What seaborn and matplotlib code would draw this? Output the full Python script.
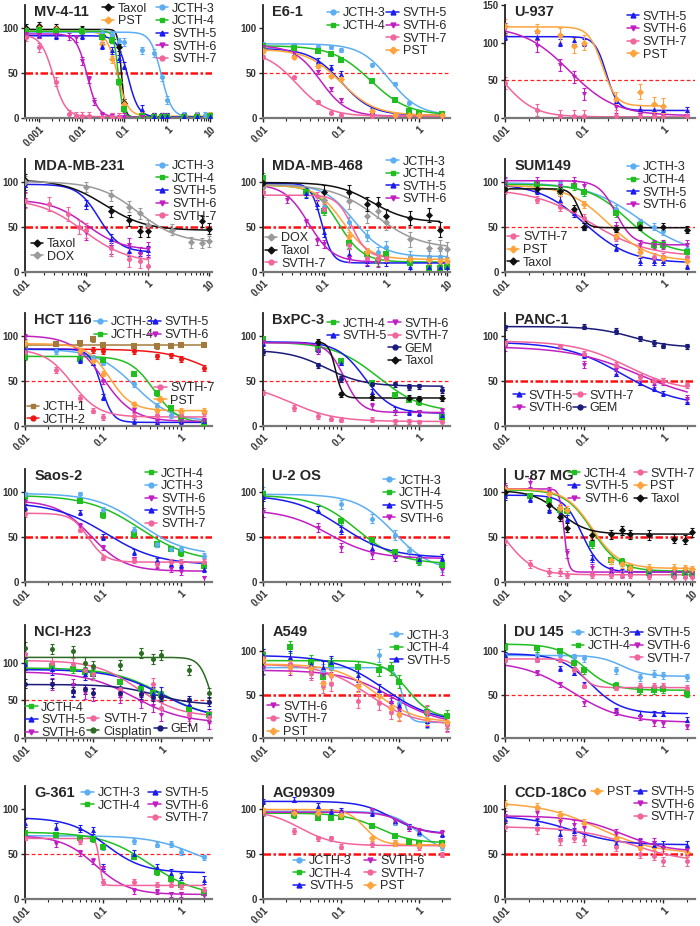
import numpy as np
import matplotlib
matplotlib.use("Agg")
import matplotlib.pyplot as plt
from matplotlib.lines import Line2D
from matplotlib.ticker import FixedLocator, LogLocator, NullFormatter
import seaborn as sns

N = None

# dose grids (uM)
DOSE_MV = [0.0005, 0.001, 0.0025, 0.005, 0.0075, 0.01, 0.015, 0.02, 0.03, 0.05,
           0.075, 0.1, 0.25, 0.5, 0.75, 1, 2.5, 5, 7.5, 10]
DOSE_2 = [0.01, 0.025, 0.05, 0.075, 0.1, 0.25, 0.5, 0.75, 1, 2]
DOSE_5 = [0.01, 0.025, 0.05, 0.075, 0.1, 0.25, 0.5, 0.75, 1, 2.5, 5]
DOSE_10 = [0.01, 0.025, 0.05, 0.075, 0.1, 0.25, 0.5, 0.75, 1, 2.5, 5, 7.5, 10]
DOSE_U87 = [0.01, 0.025, 0.05, 0.075, 0.1, 0.25, 0.5, 0.75, 1, 2, 5, 7.5, 10]

# series: name, top, bottom, IC50, hill, sem, % viability at each dose
mv4_series = [
    ("Taxol", 98, 1, 0.085, 10, 4, [100, 102, 100, N, N, 98, N, N, 92, 87, 78, 17, 2, 1, 1, 1, 2, 2, N, 2]),
    ("PST", 96, 2, 0.068, 3.5, 4, [97, 100, 98, N, N, 96, N, N, 82, 65, 40, 15, 3, 2, 2, 2, 2, 3, N, 3]),
    ("JCTH-3", 95, 1, 0.72, 3.5, 4, [95, 97, 96, N, N, 96, N, N, 94, 92, 85, 84, 75, 72, 45, 20, 3, 3, 3, 2]),
    ("JCTH-4", 96, 1, 0.072, 8, 3, [96, 97, 96, N, N, 96, N, N, 90, 86, 40, 10, 2, 1, 1, 1, 1, 1, N, 2]),
    ("SVTH-5", 91, 1, 0.12, 3.5, 4, [92, 92, 91, N, N, 91, N, N, 80, 75, 66, 58, 10, 2, 2, 2, 2, 2, N, 2]),
    ("SVTH-6", 93, 1, 0.0135, 3.5, 4, [93, 92, 92, 90, 88, 63, 43, 18, 3, 2, 1, 1, 1, N, N, N, N, N, N, N]),
    ("SVTH-7", 92, 1.5, 0.0022, 3, 5, [90, 78, 40, 4, 2, 2, 2, N, 1, 1, 1, N, N, N, N, N, N, N, N, N]),
]
e61_series = [
    ("JCTH-3", 82, 3, 0.42, 2.3, 2, [82, 81, 79, 78, 75, 59, 38, 17, 7, 4]),
    ("JCTH-4", 80, 3, 0.24, 1.8, 2, [80, 77, 74, 71, 64, 41, 20, 8, 5, 4]),
    ("SVTH-5", 77, 3, 0.1, 2.2, 3, [76, 71, 63, 56, 49, 8, 3, 3, 3, 3]),
    ("SVTH-6", 80, 2, 0.055, 2.6, 2, [78, 72, 51, 32, 20, 3, 2, 2, 2, 2]),
    ("SVTH-7", 74, 2, 0.027, 2.2, 2, [68, 45, 18, 6, 3, 2, 2, 2, 2, 2]),
    ("PST", 76, 3, 0.1, 2, 2, [74, 67, 57, 46, 43, 8, 3, 3, 3, 3]),
]
u937_series = [
    ("SVTH-5", 108, 10, 0.19, 6, 5, [108, 108, 100, 103, 100, 22, 12, 12, 10, 10]),
    ("SVTH-6", 122, 3, 0.065, 1.5, 8, [118, 96, 70, 55, 32, 15, 4, 3, 3, 3]),
    ("SVTH-7", 95, 1.5, 0.0095, 2.2, 8, [46, 10, 2, 2, 2, 2, 2, 2, 2, 2]),
    ("PST", 121, 16, 0.17, 5, 10, [122, 115, 110, 96, 100, 25, 35, 18, 16, N]),
]
mda231_series = [
    ("JCTH-3", N, N, N, N, 0, [N] * 13),
    ("JCTH-4", N, N, N, N, 0, [N] * 13),
    ("SVTH-5", 97, 22, 0.16, 2.5, 5, [96, N, N, N, 75, 37, 23, 23, 24, N, N, N, N]),
    ("SVTH-6", 80, 24, 0.1, 1.5, 8, [80, N, N, N, 43, 28, 30, 20, 25, N, N, N, N]),
    ("SVTH-7", 81, 10, 0.09, 1.2, 8, [79, 75, 64, 50, 46, 26, 14, 12, 7, N, N, N, N]),
    ("Taxol", 102, 46, 0.2, 1.3, 6, [102, N, N, N, N, 67, 57, 45, 45, N, N, 56, 48]),
    ("DOX", 100, 32, 0.7, 1.3, 6, [100, N, N, N, 94, 85, 72, 65, 52, 47, 33, 32, 34]),
]
mda468_series = [
    ("JCTH-3", 97, 17, 0.3, 1.8, 6, [95, N, N, N, 72, 55, 40, 22, 28, 17, 17, 17, 10]),
    ("JCTH-4", 96, 11, 0.17, 2.2, 5, [104, N, 88, N, 68, 32, 20, 12, 20, 10, 4, 4, 5]),
    ("SVTH-5", 98, 10, 0.09, 5, 5, [98, N, 87, 75, 44, 20, 12, N, 12, 6, 5, 5, 5]),
    ("SVTH-6", 97, 11, 0.055, 2.2, 4, [97, 80, 55, 34, 31, 15, 12, 10, N, N, N, N, N]),
    ("PST", 96, 14, 0.2, 2, 4, [96, N, N, N, 80, 40, 22, 15, 14, 14, 13, 12, 12]),
    ("DOX", 97, 26, 0.7, 1.2, 8, [95, N, N, N, 80, 78, 62, 68, 55, 36, 27, 27, 25]),
    ("Taxol", 99, 55, 0.6, 1.5, 8, [98, N, N, N, 88, 88, 75, 75, 62, 60, 63, 47, N]),
    ("SVTH-7", 85, 16, 0.28, 3.5, 5, [88, N, N, 84, 70, 30, 16, 15, 15, N, N, N, N]),
]
sum149_series = [
    ("JCTH-3", 99, 18, 0.5, 1.3, 4, [100, N, 97, N, 88, 70, 55, 50, 45, 25]),
    ("JCTH-4", 97, 20, 0.35, 1.8, 4, [97, 97, 90, 95, 88, 65, 52, 30, 30, 22]),
    ("SVTH-5", 98, 10, 0.1, 1.5, 4, [97, 90, 80, 65, 50, 27, 12, 12, 12, 7]),
    ("SVTH-6", 101, 30, 0.25, 4, 5, [100, 100, 95, 100, 95, 50, 30, 30, 30, 30]),
    ("SVTH-7", 92, 17, 0.12, 1.2, 4, [90, 80, 72, 67, 60, 38, 22, 17, 17, 17]),
    ("PST", 96, 12, 0.2, 1.7, 4, [93, N, 88, N, 75, 40, 22, N, 15, 12]),
    ("Taxol", 92, 49, 0.085, 8, 4, [92, 92, 90, 70, 50, 48, 50, N, 50, 47]),
]
hct116_series = [
    ("JCTH-1", 90, 90, 1, 1, 3, [90, 91, 92, 96, 90, 88, 88, 89, 90, 90]),
    ("JCTH-2", 85, 40, 2.5, 1.5, 3, [84, N, 83, 84, 83, 83, 77, 78, 74, 64]),
    ("JCTH-3", 85, 5, 0.25, 1.8, 3, [84, 83, 76, 75, 70, 46, 22, 12, 7, 5]),
    ("JCTH-4", 77, 3, 0.45, 2.8, 3, [76, N, 74, N, 73, 58, 36, 20, 8, 3]),
    ("SVTH-5", 85, 4, 0.095, 6, 3, [85, N, 73, 70, 32, 5, 4, N, 5, 6]),
    ("SVTH-6", 100, 5, 0.1, 2.2, 3, [99, N, 80, N, 49, 18, 6, N, 6, 6]),
    ("SVTH-7", 85, 10, 0.04, 2.5, 3, [82, 62, 31, 17, 10, 11, 12, N, 12, 14]),
    ("PST", 91, 17, 0.12, 3, 3, [92, N, 83, 72, 58, 24, 18, N, 17, 17]),
]
bxpc3_series = [
    ("JCTH-4", 93, 15, 0.3, 1.5, 3, [96, N, 85, N, 72, 48, 34, 29, 26, 10]),
    ("SVTH-5", 93, 14, 0.2, 2.5, 3, [92, N, 85, N, 70, 38, 18, 15, 14, 12]),
    ("SVTH-6", 92, 15, 0.11, 4, 3, [93, N, 83, N, 52, 22, 15, N, 15, 17]),
    ("SVTH-7", 48, 5, 0.022, 1.5, 3, [37, 20, 11, 8, 7, 7, 5, 5, 4, 4]),
    ("GEM", 84, 44, 0.065, 1.8, 3, [82, N, 67, N, 52, 47, 46, 43, 44, 40]),
    ("Taxol", 93, 31, 0.085, 10, 3, [N, N, 93, N, 35, 32, N, 31, 30, 31]),
]
panc1_series = [
    ("SVTH-5", 93, 22, 0.3, 1.2, 3, [93, N, N, N, 78, 58, 48, 42, 36, 27]),
    ("SVTH-6", 88, 25, 0.5, 1.0, 4, [87, N, N, N, 68, 62, 54, 47, 49, 30]),
    ("SVTH-7", 94, 38, 0.35, 1.3, 3, [92, N, 88, N, 80, 68, 54, 50, 50, 45]),
    ("GEM", 110, 87, 0.4, 1.8, 3, [109, N, N, N, 110, 105, 97, 92, 89, 88]),
]
saos2_series = [
    ("JCTH-4", 96, 22, 0.3, 1.3, 3, [95, N, 90, N, 74, 53, 42, 37, 32, 18]),
    ("JCTH-3", 98, 30, 0.3, 1.5, 3, [97, N, 97, N, 80, 58, 42, 37, 36, 29]),
    ("SVTH-6", 90, 12, 0.07, 2.0, 3, [88, N, 62, N, 38, 25, 18, 14, 11, 4]),
    ("SVTH-5", 88, 19, 0.11, 1.3, 3, [83, N, 77, N, 50, 33, 24, 20, 19, 14]),
    ("SVTH-7", 76, 22, 0.065, 4, 3, [75, N, 58, N, 27, 24, 20, 22, 22, 22]),
]
u2os_series = [
    ("JCTH-3", 97, 12, 0.48, 1.8, 5, [100, N, N, N, 86, 70, 52, 34, 25, 16]),
    ("JCTH-4", 96, 20, 0.16, 1.6, 4, [97, N, N, N, 67, 46, 33, N, 23, 19]),
    ("SVTH-5", 96, 27, 0.1, 1.4, 4, [94, N, 80, N, 57, 38, 30, N, 25, 27]),
    ("SVTH-6", 80, 26, 0.07, 1.5, 5, [77, N, 60, N, 38, 30, 28, N, N, 13]),
]
u87_series = [
    ("JCTH-4", 102, 12, 0.25, 2, 4, [100, 95, 90, 80, 78, 42, 24, 22, 16, 10, 8, 10, 9]),
    ("SVTH-5", 96, 11, 0.17, 3, 4, [95, 92, 80, 75, 70, 26, 12, 10, 12, 10, 9, 8, 8]),
    ("SVTH-6", 103, 11, 0.088, 12, 5, [105, 110, 100, 80, 32, 15, 12, N, 12, 12, 10, 11, 10]),
    ("SVTH-7", 80, 8, 0.011, 2, 4, [45, 20, 11, 11, 8, 8, 8, 8, 8, 7, 5, 5, 5]),
    ("PST", 103, 15, 0.25, 2, 4, [103, N, 97, 82, 80, 52, 24, 20, 16, 16, 16, 15, 14]),
    ("Taxol", 101, 53, 0.075, 2, 5, [100, N, 85, 72, 60, 52, 53, 57, 53, 52, 48, 47, 55]),
]
h23_series = [
    ("JCTH-4", 93, 25, 1.0, 1.2, 6, [100, 95, 92, 88, 85, 75, 65, 60, 57, 38, 30]),
    ("SVTH-5", 91, 25, 1.0, 1.2, 8, [98, 92, 62, 85, 85, 68, 62, 60, 60, 45, 30]),
    ("SVTH-6", 88, 20, 0.4, 1.2, 8, [110, 72, 70, 60, 57, 55, 48, 42, 30, 25, 20]),
    ("SVTH-7", 103, 28, 0.45, 1.4, 8, [112, 100, 98, 90, 85, 65, 58, 72, 40, 30, 28]),
    ("Cisplatin", 107, 0, 5.5, 5, 7, [120, 118, 115, 100, 95, 97, 113, 105, 110, 90, 60]),
    ("GEM", 71, 44, 0.8, 1.5, 6, [72, 72, 62, 65, 60, 60, 58, 55, 55, 50, 48]),
]
a549_series = [
    ("JCTH-3", 81, 18, 1.1, 8, 7, [80, 85, 80, 78, 80, 82, 95, 80, 40, 18, 17]),
    ("JCTH-4", 89, 23, 1.3, 2.5, 7, [95, 105, 88, 70, 85, 82, 78, 80, 65, 30, 25]),
    ("SVTH-5", 95, 18, 0.6, 1.2, 7, [95, 93, 85, 82, 87, 72, 55, 42, 38, 20, 18]),
    ("SVTH-6", 78, 15, 0.8, 1.2, 6, [80, 78, 75, 72, 70, 60, 48, 40, 32, 20, 14]),
    ("SVTH-7", 85, 15, 0.35, 1.3, 8, [92, 85, 75, 60, 62, 42, 40, 30, 27, 30, 15]),
    ("PST", 85, 18, 0.45, 1.5, 7, [90, 82, 80, 63, 72, 60, 48, 35, 28, 22, 18]),
]
du145_series = [
    ("JCTH-3", 95, 71, 0.3, 3, 4, [95, 95, 95, 93, 92, 78, 70, 74, 72, 70]),
    ("JCTH-4", 108, 55, 0.1, 2.5, 4, [105, 103, 100, 86, 78, 60, 55, 55, 56, 51]),
    ("SVTH-5", 97, 28, 0.12, 2.2, 3, [96, 92, 80, 75, 62, 32, 28, 28, 28, 21]),
    ("SVTH-6", 88, 18, 0.07, 1.4, 3, [87, 75, 62, N, 40, 30, 24, 17, 16, 13]),
    ("SVTH-7", 91, 58, 0.09, 6, 3, [90, 90, 90, 78, 60, 58, 60, 60, 60, 58]),
]
g361_series = [
    ("JCTH-3", 70, 30, 1.5, 1.5, 3, [70, 70, 67, N, 57, 64, 60, 61, 52, 46]),
    ("JCTH-4", 74, 3, 0.4, 1.4, 3, [73, 71, 68, 66, 58, 47, 30, 22, 16, 7]),
    ("SVTH-5", 90, 29, 0.11, 1.8, 4, [84, 80, 78, 76, 35, 50, 35, 29, 25, 21]),
    ("SVTH-6", 70, 5, 0.08, 2.0, 3, [68, 61, 51, 42, 34, 9, 8, 5, 5, 3]),
    ("SVTH-7", 67, 15, 0.09, 20, 3, [68, N, 64, N, 19, 19, 16, 16, 14, 10]),
]
ag09309_series = [
    ("JCTH-3", 97, 50, 1.0, 2.5, 3, [97, 95, 95, N, 95, 98, 85, 80, 73, 57]),
    ("JCTH-4", 95, 62, 0.3, 2, 3, [95, 93, 90, 90, 91, 81, 70, 63, 62, 62]),
    ("SVTH-5", 108, 72, 0.45, 2.2, 3, [108, 110, 103, 97, 98, 95, 86, 80, 74, 72]),
    ("SVTH-6", 96, 72, 0.65, 3, 3, [96, 96, 93, N, 95, 98, 86, 78, 75, 73]),
    ("SVTH-7", 98, 59, 0.03, 2, 3, [95, 75, 67, 67, 58, 61, 62, N, 57, 49]),
    ("PST", 99, 60, 0.2, 4, 3, [98, 95, 95, N, 93, 67, 62, N, 60, 60]),
]
ccd18_series = [
    ("PST", 107, 50, 0.15, 1.2, 4, [105, 102, 93, N, 84, 68, 58, 58, 57, 52]),
    ("SVTH-5", 92, 60, 0.07, 1.5, 4, [88, 84, 72, 75, 68, 62, 62, 60, 60, 60]),
    ("SVTH-6", 92, 52, 0.3, 1.5, 5, [92, 95, 85, 82, 78, 72, 62, 62, 56, 54]),
    ("SVTH-7", 80, 40, 0.4, 1.2, 5, [80, 77, 65, 68, 65, 58, 50, 48, 42, 42]),
]

STYLE = {
    "JCTH-1": ("#a47a3c", "s"),
    "JCTH-2": ("#f01414", "o"),
    "JCTH-3": ("#5caef2", "o"),
    "JCTH-4": ("#1fbf1f", "s"),
    "SVTH-5": ("#1b1bf0", "^"),
    "SVTH-6": ("#c21fc2", "v"),
    "SVTH-7": ("#f2649c", "o"),
    "PST": ("#ffa33c", "D"),
    "Taxol": ("#111111", "D"),
    "DOX": ("#9a9a9a", "D"),
    "GEM": ("#1b1b7a", "o"),
    "Cisplatin": ("#2b6b22", "o"),
}

# title, doses, series, xlim, ymax, yticks, thick 50% line, legend groups
PANELS = [
    ("MV-4-11", DOSE_MV, mv4_series, (0.00048, 11), 125, [0, 50, 100], True,
     [(["Taxol", "PST"], 0.41, 1.02), (["JCTH-3", "JCTH-4", "SVTH-5", "SVTH-6", "SVTH-7"], 0.70, 1.02)]),
    ("E6-1", DOSE_2, e61_series, (0.01, 2.5), 125, [0, 50, 100], False,
     [(["JCTH-3", "JCTH-4"], 0.34, 0.98), (["SVTH-5", "SVTH-6", "SVTH-7", "PST"], 0.66, 0.98)]),
    ("U-937", DOSE_2, u937_series, (0.01, 2.5), 150, [0, 50, 100, 150], False,
     [(["SVTH-5", "SVTH-6", "SVTH-7", "PST"], 0.64, 0.95)]),
    ("MDA-MB-231", DOSE_10, mda231_series, (0.01, 11), 125, [0, 50, 100], True,
     [(["JCTH-3", "JCTH-4", "SVTH-5", "SVTH-6", "SVTH-7"], 0.70, 0.99), (["Taxol", "DOX"], 0.03, 0.30)]),
    ("MDA-MB-468", DOSE_10, mda468_series, (0.01, 11), 125, [0, 50, 100], True,
     [(["JCTH-3", "JCTH-4", "SVTH-5", "SVTH-6"], 0.66, 1.03), (["DOX", "Taxol", "SVTH-7"], 0.01, 0.35)]),
    ("SUM149", DOSE_2, sum149_series, (0.01, 2.5), 125, [0, 50, 100], False,
     [(["JCTH-3", "JCTH-4", "SVTH-5", "SVTH-6"], 0.64, 0.98), (["SVTH-7", "PST", "Taxol"], 0.01, 0.36)]),
    ("HCT 116", DOSE_2, hct116_series, (0.01, 2.5), 125, [0, 50, 100], False,
     [(["JCTH-3", "JCTH-4"], 0.37, 0.97), (["SVTH-5", "SVTH-6"], 0.66, 0.97),
      (["SVTH-7", "PST"], 0.69, 0.39), (["JCTH-1", "JCTH-2"], 0.01, 0.22)]),
    ("BxPC-3", DOSE_2, bxpc3_series, (0.01, 2.5), 125, [0, 50, 100], False,
     [(["JCTH-4", "SVTH-5"], 0.34, 0.96), (["SVTH-6", "SVTH-7", "GEM", "Taxol"], 0.67, 0.96)]),
    ("PANC-1", DOSE_2, panc1_series, (0.01, 2.5), 125, [0, 50, 100], True,
     [(["SVTH-5", "SVTH-6"], 0.04, 0.32), (["SVTH-7", "GEM"], 0.36, 0.32)]),
    ("Saos-2", DOSE_2, saos2_series, (0.01, 2.5), 125, [0, 50, 100], True,
     [(["JCTH-4", "JCTH-3", "SVTH-6", "SVTH-5", "SVTH-7"], 0.64, 1.01)]),
    ("U-2 OS", DOSE_2, u2os_series, (0.01, 2.5), 125, [0, 50, 100], True,
     [(["JCTH-3", "JCTH-4", "SVTH-5", "SVTH-6"], 0.64, 0.95)]),
    ("U-87 MG", DOSE_U87, u87_series, (0.01, 11), 125, [0, 50, 100], True,
     [(["JCTH-4", "SVTH-5", "SVTH-6"], 0.33, 1.01), (["SVTH-7", "PST", "Taxol"], 0.68, 1.01)]),
    ("NCI-H23", DOSE_5, h23_series, (0.01, 5.5), 150, [0, 50, 100], False,
     [(["JCTH-4", "SVTH-5", "SVTH-6"], 0.0, 0.32), (["SVTH-7", "Cisplatin"], 0.33, 0.22), (["GEM"], 0.69, 0.13)]),
    ("A549", DOSE_5, a549_series, (0.01, 5.5), 130, [0, 50, 100], True,
     [(["JCTH-3", "JCTH-4", "SVTH-5"], 0.68, 0.96), (["SVTH-6", "SVTH-7", "PST"], 0.02, 0.33)]),
    ("DU 145", DOSE_2, du145_series, (0.01, 2.5), 130, [0, 50, 100], False,
     [(["JCTH-3", "JCTH-4"], 0.35, 0.98), (["SVTH-5", "SVTH-6", "SVTH-7"], 0.66, 0.98)]),
    ("G-361", DOSE_2, g361_series, (0.01, 2.5), 125, [0, 50, 100], False,
     [(["JCTH-3", "JCTH-4"], 0.30, 0.99), (["SVTH-5", "SVTH-6", "SVTH-7"], 0.66, 0.99)]),
    ("AG09309", DOSE_2, ag09309_series, (0.01, 2.5), 125, [0, 50, 100], True,
     [(["JCTH-3", "JCTH-4", "SVTH-5"], 0.16, 0.39), (["SVTH-6", "SVTH-7", "PST"], 0.54, 0.39)]),
    ("CCD-18Co", DOSE_2, ccd18_series, (0.01, 2.5), 125, [0, 50, 100], True,
     [(["PST"], 0.45, 1.0), (["SVTH-5", "SVTH-6", "SVTH-7"], 0.68, 1.0)]),
]


def four_pl(x, top, bottom, ic50, hill):
    return bottom + (top - bottom) / (1 + (x / ic50) ** hill)


sns.set_theme(style="ticks")
plt.rcParams["font.family"] = ["Liberation Sans", "DejaVu Sans"]
LEGEND_FONT = {"family": ["Liberation Sans Narrow", "Liberation Sans", "DejaVu Sans"], "size": 9}

W, H = 700, 926
fig = plt.figure(figsize=(W / 100, H / 100), dpi=100)

row_bottom = [118, 272, 426, 582, 738, 899]
col_left = [25, 263, 505]
col_width = [187, 187, 190]
ax_h = 113

for i, (title, doses, series, xlim, ymax, yticks, thick, legends) in enumerate(PANELS):
    r, c = divmod(i, 3)
    ax = fig.add_axes([col_left[c] / W, 1 - row_bottom[r] / H, col_width[c] / W, ax_h / H])
    ax.set_xscale("log")

    if thick:
        ax.axhline(50, color="#ff1010", lw=1.8, ls=(0, (3, 1, 1, 1)), zorder=1)
    else:
        ax.axhline(50, color="#ff2020", lw=0.9, ls=(0, (3, 2)), zorder=1)

    for name, top, bottom, ic50, hill, err, ys in series:
        color, marker = STYLE[name]
        xs = np.array([d for d, v in zip(doses, ys) if v is not None], dtype=float)
        vs = np.array([v for v in ys if v is not None], dtype=float)
        if len(xs) == 0:
            continue
        if top is not None:
            grid = np.logspace(np.log10(xs.min()), np.log10(xs.max()), 200)
            sns.lineplot(x=grid, y=four_pl(grid, top, bottom, ic50, hill), color=color,
                         lw=1.1, ax=ax, legend=False, zorder=2)
        ax.errorbar(xs, vs, yerr=err, fmt="none", ecolor=color, elinewidth=0.8,
                    capsize=1.5, capthick=0.8, zorder=2)
        sns.scatterplot(x=xs, y=vs, color=color, marker=marker, s=13, linewidth=0,
                        ax=ax, legend=False, zorder=3)

    ax.set_xlim(*xlim)
    ax.set_ylim(0, ymax)
    ax.set_yticks(yticks)
    decades = [10.0 ** k for k in range(-4, 2) if xlim[0] * 0.999 <= 10.0 ** k <= xlim[1]]
    ax.xaxis.set_major_locator(FixedLocator(decades))
    ax.set_xticklabels([f"{t:g}" for t in decades])
    ax.xaxis.set_minor_locator(LogLocator(base=10, subs=np.arange(2, 10)))
    ax.xaxis.set_minor_formatter(NullFormatter())
    ax.set_xlabel("")
    ax.set_ylabel("")
    for lab in ax.get_xticklabels():
        lab.set_rotation(45)
        lab.set_ha("right")
        lab.set_rotation_mode("anchor")
    ax.tick_params(axis="both", labelsize=7, labelcolor="#333333", length=3, width=1, pad=1.5)
    ax.tick_params(axis="x", which="minor", length=1.8, width=0.8)
    for lab in ax.get_xticklabels() + ax.get_yticklabels():
        lab.set_fontweight("bold")
    sns.despine(ax=ax)
    ax.spines["left"].set_linewidth(1.3)
    ax.spines["left"].set_color("#222222")
    ax.spines["bottom"].set_linewidth(1.6)
    ax.spines["bottom"].set_color("#777777")

    ax.text(0.05, 1.0, title, transform=ax.transAxes, fontsize=10.5,
            fontweight="bold", va="top", ha="left", zorder=5)

    made = []
    for names, lx, ly in legends:
        handles = [Line2D([0], [0], color=STYLE[n][0], marker=STYLE[n][1], markersize=3.5,
                          lw=1.1) for n in names]
        leg = ax.legend(handles, names, loc="upper left", bbox_to_anchor=(lx, ly),
                        frameon=False, prop=LEGEND_FONT, handlelength=1.0, handletextpad=0.3,
                        labelspacing=0.05, borderpad=0, borderaxespad=0)
        made.append(leg)
    for leg in made[:-1]:
        ax.add_artist(leg)

fig.savefig("out.png", dpi=100)
